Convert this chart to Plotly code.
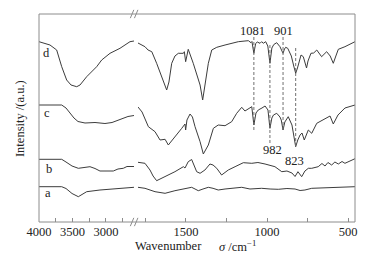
import plotly.graph_objects as go

# ---------------- data (wavenumber / cm^-1, intensity a.u.) ----------------
d_left_wn = [4000, 3836, 3736, 3661, 3587, 3522, 3437, 3388, 3288, 3139, 3064, 2940, 2791, 2642, 2582]
d_left_I = [180.3, 177, 172, 155.3, 142, 137, 135.3, 137, 145.3, 155.3, 162, 168.7, 173.7, 180.3, 181]

d_right_wn = [1796, 1765, 1753, 1734, 1711, 1681, 1650, 1629, 1619, 1605, 1588, 1568, 1547, 1516, 1510,
              1502, 1486, 1455, 1434, 1413, 1397, 1383, 1362, 1341, 1310, 1259, 1218, 1177, 1136, 1115,
              1099, 1093, 1081, 1070, 1060, 1043, 1033, 1023, 1008, 995, 982, 970, 958,
              940, 920, 912, 901, 892, 885, 872, 850, 835, 823, 812, 800, 790, 776, 765, 756, 747, 738,
              729, 712, 693, 663, 632, 610, 591, 575, 560, 519, 457]
d_right_I = [179, 176, 175.3, 172, 170.3, 158.7, 145.3, 135.3, 132, 140, 158.7, 166, 168.7, 168.7, 170.3,
             160.3, 172.7, 158.7, 148.7, 137, 122, 135.3, 158.7, 172, 174.7, 177, 178.7, 180.3, 181, 181.3,
             179.3, 180.5, 168.7, 178.5, 180, 178.7, 180.3, 178.7, 180.3, 176, 158.7, 174, 177.5,
             179.3, 175.3, 172, 168.7, 173, 174.7, 173.7, 166, 156, 148.7, 154, 162, 167, 165.3, 160, 154, 161, 165.3,
             168.7, 169, 172, 165.3, 170.3, 166, 158.7, 166, 172.7, 175.3, 180.3]

c_left_wn = [4000, 3661, 3597, 3537, 3478, 3418, 3313, 3164, 3015, 2910, 2791, 2672, 2582]
c_left_I = [117, 117, 114, 109, 104, 100.5, 99, 99.5, 98.5, 99.5, 102.5, 105.5, 106.5]

c_right_wn = [1796, 1771, 1732, 1691, 1660, 1629, 1609, 1588, 1568, 1526, 1506, 1502, 1494, 1475, 1460,
              1444, 1413, 1393, 1362, 1331, 1301, 1259, 1218, 1187, 1156, 1136, 1094, 1081, 1068,
              1054, 1031, 1012, 994, 982, 970, 960, 940, 920, 912, 901, 890, 880, 869, 846,
              836, 823, 810, 796, 784, 770, 745, 724, 693, 642, 611, 591, 562, 519, 457]
c_right_I = [115, 110, 95.3, 90.3, 82, 82.7, 77, 81, 85.3, 93.7, 98, 92, 102, 108, 105,
             95.3, 80.3, 68, 77, 93.7, 97, 96.3, 100.3, 108.7, 114.7, 111, 115.3, 97, 109,
             112, 114, 116, 112, 93.7, 104, 107, 108.7, 105, 102, 92, 100, 103, 105.3, 97,
             88, 75.3, 82, 87, 89, 82, 92, 88.7, 98.7, 103.7, 106, 98, 107, 114, 117]

b_left_wn = [4000, 3661, 3597, 3507, 3413, 3328, 3239, 3164, 3090, 3000, 2891, 2821, 2742, 2687, 2616, 2582]
b_left_I = [62.7, 62.7, 60, 56, 53.7, 54.5, 55.3, 53.5, 51, 51, 51, 53, 53.7, 55.5, 55.3, 55.5]

b_right_wn = [1796, 1753, 1722, 1703, 1681, 1650, 1611, 1568, 1516, 1506, 1486, 1465, 1434, 1413, 1383,
              1352, 1333, 1310, 1280, 1239, 1197, 1146, 1094, 1056, 1012, 951, 909, 877, 846, 827, 809,
              786, 766, 745, 724, 684, 661, 642, 624, 601, 581, 560, 537, 519, 488, 457]
b_right_I = [59.7, 58.7, 52, 46, 41.3, 43.7, 47, 50.3, 55.3, 54, 60.3, 62.5, 50.3, 48.7, 52,
             58, 57, 53.7, 47, 52, 55.3, 59.3, 58.7, 59.5, 58, 55.3, 50.3, 51, 49, 45.5, 50.3,
             45.3, 51, 53.7, 53.7, 55.3, 58.5, 56, 59.5, 57, 60, 58, 60.5, 58.7, 61, 63.3]

a_left_wn = [4000, 3661, 3597, 3507, 3413, 3358, 3288, 3090, 2840, 2582]
a_left_I = [35.3, 35.3, 33.5, 28.5, 25.3, 27.5, 30.3, 32, 33.7, 34.7]

a_right_wn = [1796, 1753, 1691, 1629, 1568, 1506, 1465, 1444, 1424, 1395, 1362, 1333, 1301, 1259, 1218,
              1156, 1105, 1033, 981, 930, 877, 827, 796, 766, 724, 673, 622, 549, 457]
a_right_I = [34.7, 33.7, 30.3, 28.7, 31.3, 33.7, 34.7, 33, 31.3, 33, 34.7, 33.7, 32, 33, 33.7,
             34.7, 33, 33.7, 33, 32.7, 33.5, 33, 31.5, 32, 33.7, 34, 34.7, 35, 35.3]

curve_names = ["d", "c", "b", "a"]
curve_label_wn = [3881, 3881, 3851, 3866]
curve_label_I = [169, 109, 53, 29]

peak_wn = [1081, 982, 901, 823]
peak_dash_top = [185, 177, 185, 174]
peak_dash_bottom = [90, 77, 90, 76]
peak_text = ["1081", "982", "901", "823"]
peak_text_wn = [1089, 966, 898, 833]
peak_text_I = [191, 72, 191, 61]

left_major = [4000, 3500, 3000]
left_minor = [3750, 3250, 2750]
right_major = [1500, 1000, 500]
right_minor = [1750, 1250, 750]

# ---------------- figure ----------------
LINE = "#3c3c3c"
FRAME = "#8c8c8c"
FONT = "Liberation Serif, Times New Roman, serif"
TXT = "#222222"

fig = go.Figure()
segments = [
    (d_left_wn, d_left_I, d_right_wn, d_right_I),
    (c_left_wn, c_left_I, c_right_wn, c_right_I),
    (b_left_wn, b_left_I, b_right_wn, b_right_I),
    (a_left_wn, a_left_I, a_right_wn, a_right_I),
]
for lw, li, rw, ri in segments:
    fig.add_trace(go.Scatter(x=lw, y=li, mode="lines", line=dict(color=LINE, width=1),
                             xaxis="x", yaxis="y", showlegend=False, hoverinfo="skip"))
    fig.add_trace(go.Scatter(x=rw, y=ri, mode="lines", line=dict(color=LINE, width=1),
                             xaxis="x2", yaxis="y", showlegend=False, hoverinfo="skip"))

for wn, top, bot in zip(peak_wn, peak_dash_top, peak_dash_bottom):
    fig.add_trace(go.Scatter(x=[wn, wn], y=[top, bot], mode="lines",
                             line=dict(color="#707070", width=1, dash="3px,2px"),
                             xaxis="x2", yaxis="y", showlegend=False, hoverinfo="skip"))

annotations = []
for name, wn, I in zip(curve_names, curve_label_wn, curve_label_I):
    annotations.append(dict(x=wn, y=I, xref="x", yref="y", text=name, showarrow=False,
                            font=dict(family=FONT, size=12.5, color=TXT)))
for t, wn, I in zip(peak_text, peak_text_wn, peak_text_I):
    annotations.append(dict(x=wn, y=I, xref="x2", yref="y", text=t, showarrow=False,
                            font=dict(family=FONT, size=12.5, color=TXT)))
annotations.append(dict(x=0.2975, y=-0.1154, xref="paper", yref="paper", xanchor="left", yanchor="middle",
                        text="Wavenumber", showarrow=False, font=dict(family=FONT, size=12.5, color=TXT)))
annotations.append(dict(x=0.5623, y=-0.1154, xref="paper", yref="paper", xanchor="left", yanchor="middle",
                        text="<i>σ</i> /cm<sup>−1</sup>", showarrow=False,
                        font=dict(family=FONT, size=12.5, color=TXT)))
annotations.append(dict(x=-0.0601, y=0.495, xref="paper", yref="paper", xanchor="center", yanchor="middle",
                        text="Intensity /(a.u.)", textangle=-90, showarrow=False,
                        font=dict(family=FONT, size=12.5, color=TXT)))

shapes = [dict(type="rect", xref="paper", yref="paper", x0=0, y0=0, x1=1, y1=1,
               line=dict(color=FRAME, width=1), layer="above")]
# axis break marks "//" at top and bottom
for yp in (0, 1):
    for x0p in (0.289, 0.302):
        shapes.append(dict(type="line", xref="paper", yref="paper",
                           x0=x0p, y0=yp - 0.02, x1=x0p + 0.011, y1=yp + 0.02,
                           line=dict(color=FRAME, width=1)))

def xaxis_style(domain, rng, major, minor):
    return dict(domain=domain, range=rng, anchor="y", showgrid=False, zeroline=False, showline=False,
                tickmode="array", tickvals=major, ticktext=[str(v) for v in major],
                ticks="inside", ticklen=4, tickcolor=FRAME, tickwidth=1,
                tickfont=dict(family=FONT, size=12.5, color=TXT), ticklabeloverflow="allow",
                minor=dict(tickmode="array", tickvals=minor, ticks="inside", ticklen=4,
                           tickcolor=FRAME, tickwidth=1, showgrid=False),
                fixedrange=True, automargin=False)

fig.update_layout(
    width=371, height=261,
    margin=dict(l=39, r=16, t=14, b=39),
    paper_bgcolor="white", plot_bgcolor="white",
    xaxis=xaxis_style([0, 0.3006], [4000, 2582], left_major, left_minor),
    xaxis2=xaxis_style([0.3133, 1], [1796, 457], right_major, right_minor),
    yaxis=dict(range=[0, 208], showgrid=False, zeroline=False, showticklabels=False, ticks="",
               showline=False, fixedrange=True),
    annotations=annotations,
    shapes=shapes,
)

fig.write_html("out.html", config={"displayModeBar": False},
               post_script="document.body.style.margin='0px';document.body.style.padding='0px';")
